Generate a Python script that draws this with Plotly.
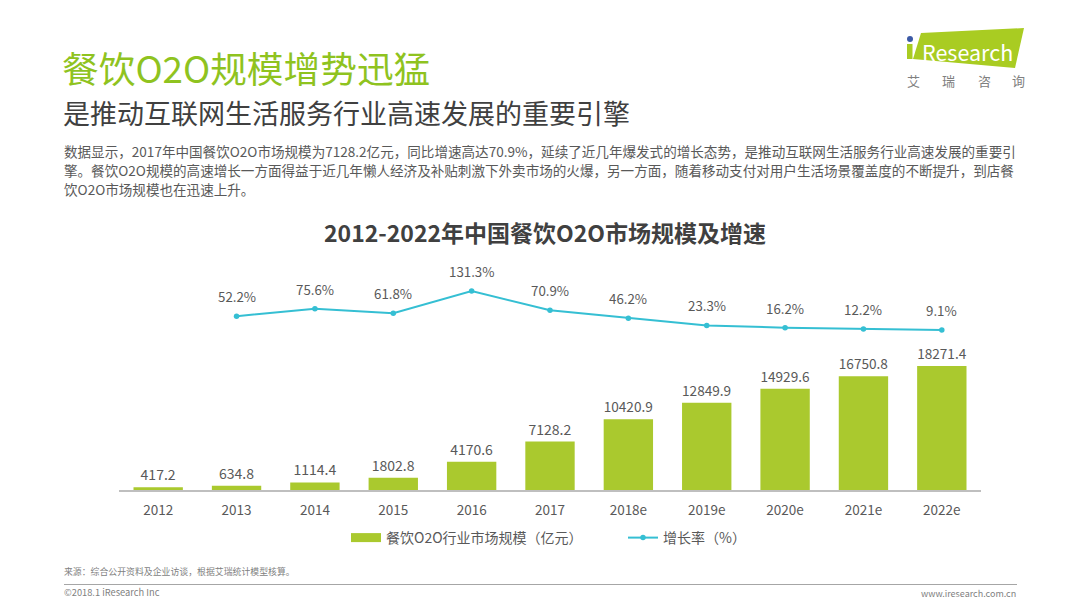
import plotly.graph_objects as go

categories = ["2012", "2013", "2014", "2015", "2016", "2017", "2018e", "2019e", "2020e", "2021e", "2022e"]
market_size = [417.2, 634.8, 1114.4, 1802.8, 4170.6, 7128.2, 10420.9, 12849.9, 14929.6, 16750.8, 18271.4]
growth_rate = [None, 52.2, 75.6, 61.8, 131.3, 70.9, 46.2, 23.3, 16.2, 12.2, 9.1]
bar_labels = ["417.2", "634.8", "1114.4", "1802.8", "4170.6", "7128.2", "10420.9", "12849.9", "14929.6", "16750.8", "18271.4"]
line_labels = ["", "52.2%", "75.6%", "61.8%", "131.3%", "70.9%", "46.2%", "23.3%", "16.2%", "12.2%", "9.1%"]

FONT = "Noto Sans CJK SC"
GREY = "#595959"
BAR_GREEN = "#aac92e"
LINE_BLUE = "#35bfd3"
PLOT_L, PLOT_W, PLOT_B, PLOT_H = 119, 862, 490, 240

def px(x):
    return (x - PLOT_L) / PLOT_W

def py(y):
    return (PLOT_B - y) / PLOT_H

fig = go.Figure()
fig.add_trace(go.Bar(
    x=categories, y=market_size, showlegend=False,
    marker_color=BAR_GREEN, width=0.63,
    text=bar_labels, textposition="outside", cliponaxis=False,
    textfont=dict(size=14, color=GREY, family=FONT),
))
# legend entry for the bars, drawn as a wide swatch
fig.add_trace(go.Scatter(
    x=[None], y=[None], mode="lines", name="餐饮O2O行业市场规模（亿元）",
    line=dict(color=BAR_GREEN, width=9),
))
fig.add_trace(go.Scatter(
    x=categories, y=growth_rate, name="增长率（%）", yaxis="y2", mode="lines+markers",
    line=dict(color=LINE_BLUE, width=2), marker=dict(color=LINE_BLUE, size=5.5),
    cliponaxis=False,
))
# numeric-looking category names would be misread in annotations, so use the category index
for i, (val, lab) in enumerate(zip(growth_rate, line_labels)):
    if val is not None:
        fig.add_annotation(xref="x", yref="y2", x=i, y=val, text=lab, showarrow=False,
                           yanchor="bottom", yshift=8,
                           font=dict(size=13.3, color=GREY, family=FONT))

def note(x, y, text, size, color=GREY, anchor="left", weight=None):
    if weight == "bold":
        text = "<b>" + text + "</b>"
    fig.add_annotation(xref="paper", yref="paper", x=px(x), y=py(y), text=text, showarrow=False,
                       xanchor=anchor, yanchor="middle", align="left", borderpad=0,
                       font=dict(size=size, color=color, family=FONT))

note(61, 67, "餐饮O2O规模增势迅猛", 36.7, "#8fc31f")
note(62, 112, "是推动互联网生活服务行业高速发展的重要引擎", 27, "#404040")
note(63, 151, "数据显示，2017年中国餐饮O2O市场规模为7128.2亿元，同比增速高达70.9%，延续了近几年爆发式的增长态势，是推动互联网生活服务行业高速发展的重要引", 13.57)
note(63, 170, "擎。餐饮O2O规模的高速增长一方面得益于近几年懒人经济及补贴刺激下外卖市场的火爆，另一方面，随着移动支付对用户生活场景覆盖度的不断提升，到店餐", 13.57)
note(63, 189, "饮O2O市场规模也在迅速上升。", 13.57)
note(545, 232, "2012-2022年中国餐饮O2O市场规模及增速", 23, "#404040", "center", "bold")
note(63, 571, "来源：综合公开资料及企业访谈，根据艾瑞统计模型核算。", 8.9, "#7f7f7f")
note(63, 592, "©2018.1 iResearch Inc", 9.3, "#7f7f7f")
note(1017, 593, "www.iresearch.com.cn", 9, "#7f7f7f", "right")

# iResearch logo
fig.add_shape(type="path", xref="paper", yref="paper", line_width=0, fillcolor="#a9cc22",
              path=f"M {px(921)} {py(33)} L {px(1024)} {py(28)} L {px(1015)} {py(68)} L {px(913)} {py(59)} Z")
fig.add_shape(type="rect", xref="paper", yref="paper", line_width=0, fillcolor="#a9cc22",
              x0=px(907), x1=px(912.5), y0=py(59), y1=py(44))
fig.add_shape(type="circle", xref="paper", yref="paper", line_width=0, fillcolor="#3c5aa6",
              x0=px(907), x1=px(913), y0=py(42), y1=py(36))
note(921, 51, "Research", 21.5, "#ffffff")
for x, ch in zip([913, 948, 985, 1018], "艾瑞咨询"):
    note(x, 80, ch, 13, "#808080", "center")

# footer rule
fig.add_shape(type="line", xref="paper", yref="paper", x0=px(64), x1=px(1017), y0=py(584.5), y1=py(584.5),
              line=dict(color="#a6a6a6", width=1))

fig.update_layout(
    width=1072, height=600, autosize=False, template=None, bargap=0.37,
    paper_bgcolor="white", plot_bgcolor="white",
    margin=dict(l=111, r=99, t=242, b=118, pad=0),
    font=dict(family=FONT, color=GREY),
    xaxis=dict(type="category", range=[-0.5, 10.5], showline=True, linecolor="#bfbfbf", linewidth=1.5,
               ticks="", showgrid=False, ticklabelstandoff=7,
               tickfont=dict(size=13.5, color=GREY, family=FONT)),
    yaxis=dict(range=[0, 35350], visible=False, showgrid=False, zeroline=False),
    yaxis2=dict(range=[-492.6, 259.8], overlaying="y", side="right", visible=False, showgrid=False, zeroline=False),
    showlegend=True,
    legend=dict(orientation="h", xref="paper", yref="paper", x=px(346), y=py(522),
                xanchor="left", yanchor="top", font=dict(size=14, color=GREY, family=FONT),
                bgcolor="rgba(0,0,0,0)", itemwidth=30, entrywidth=232, entrywidthmode="pixels"),
)

fig.write_html("out.html")
